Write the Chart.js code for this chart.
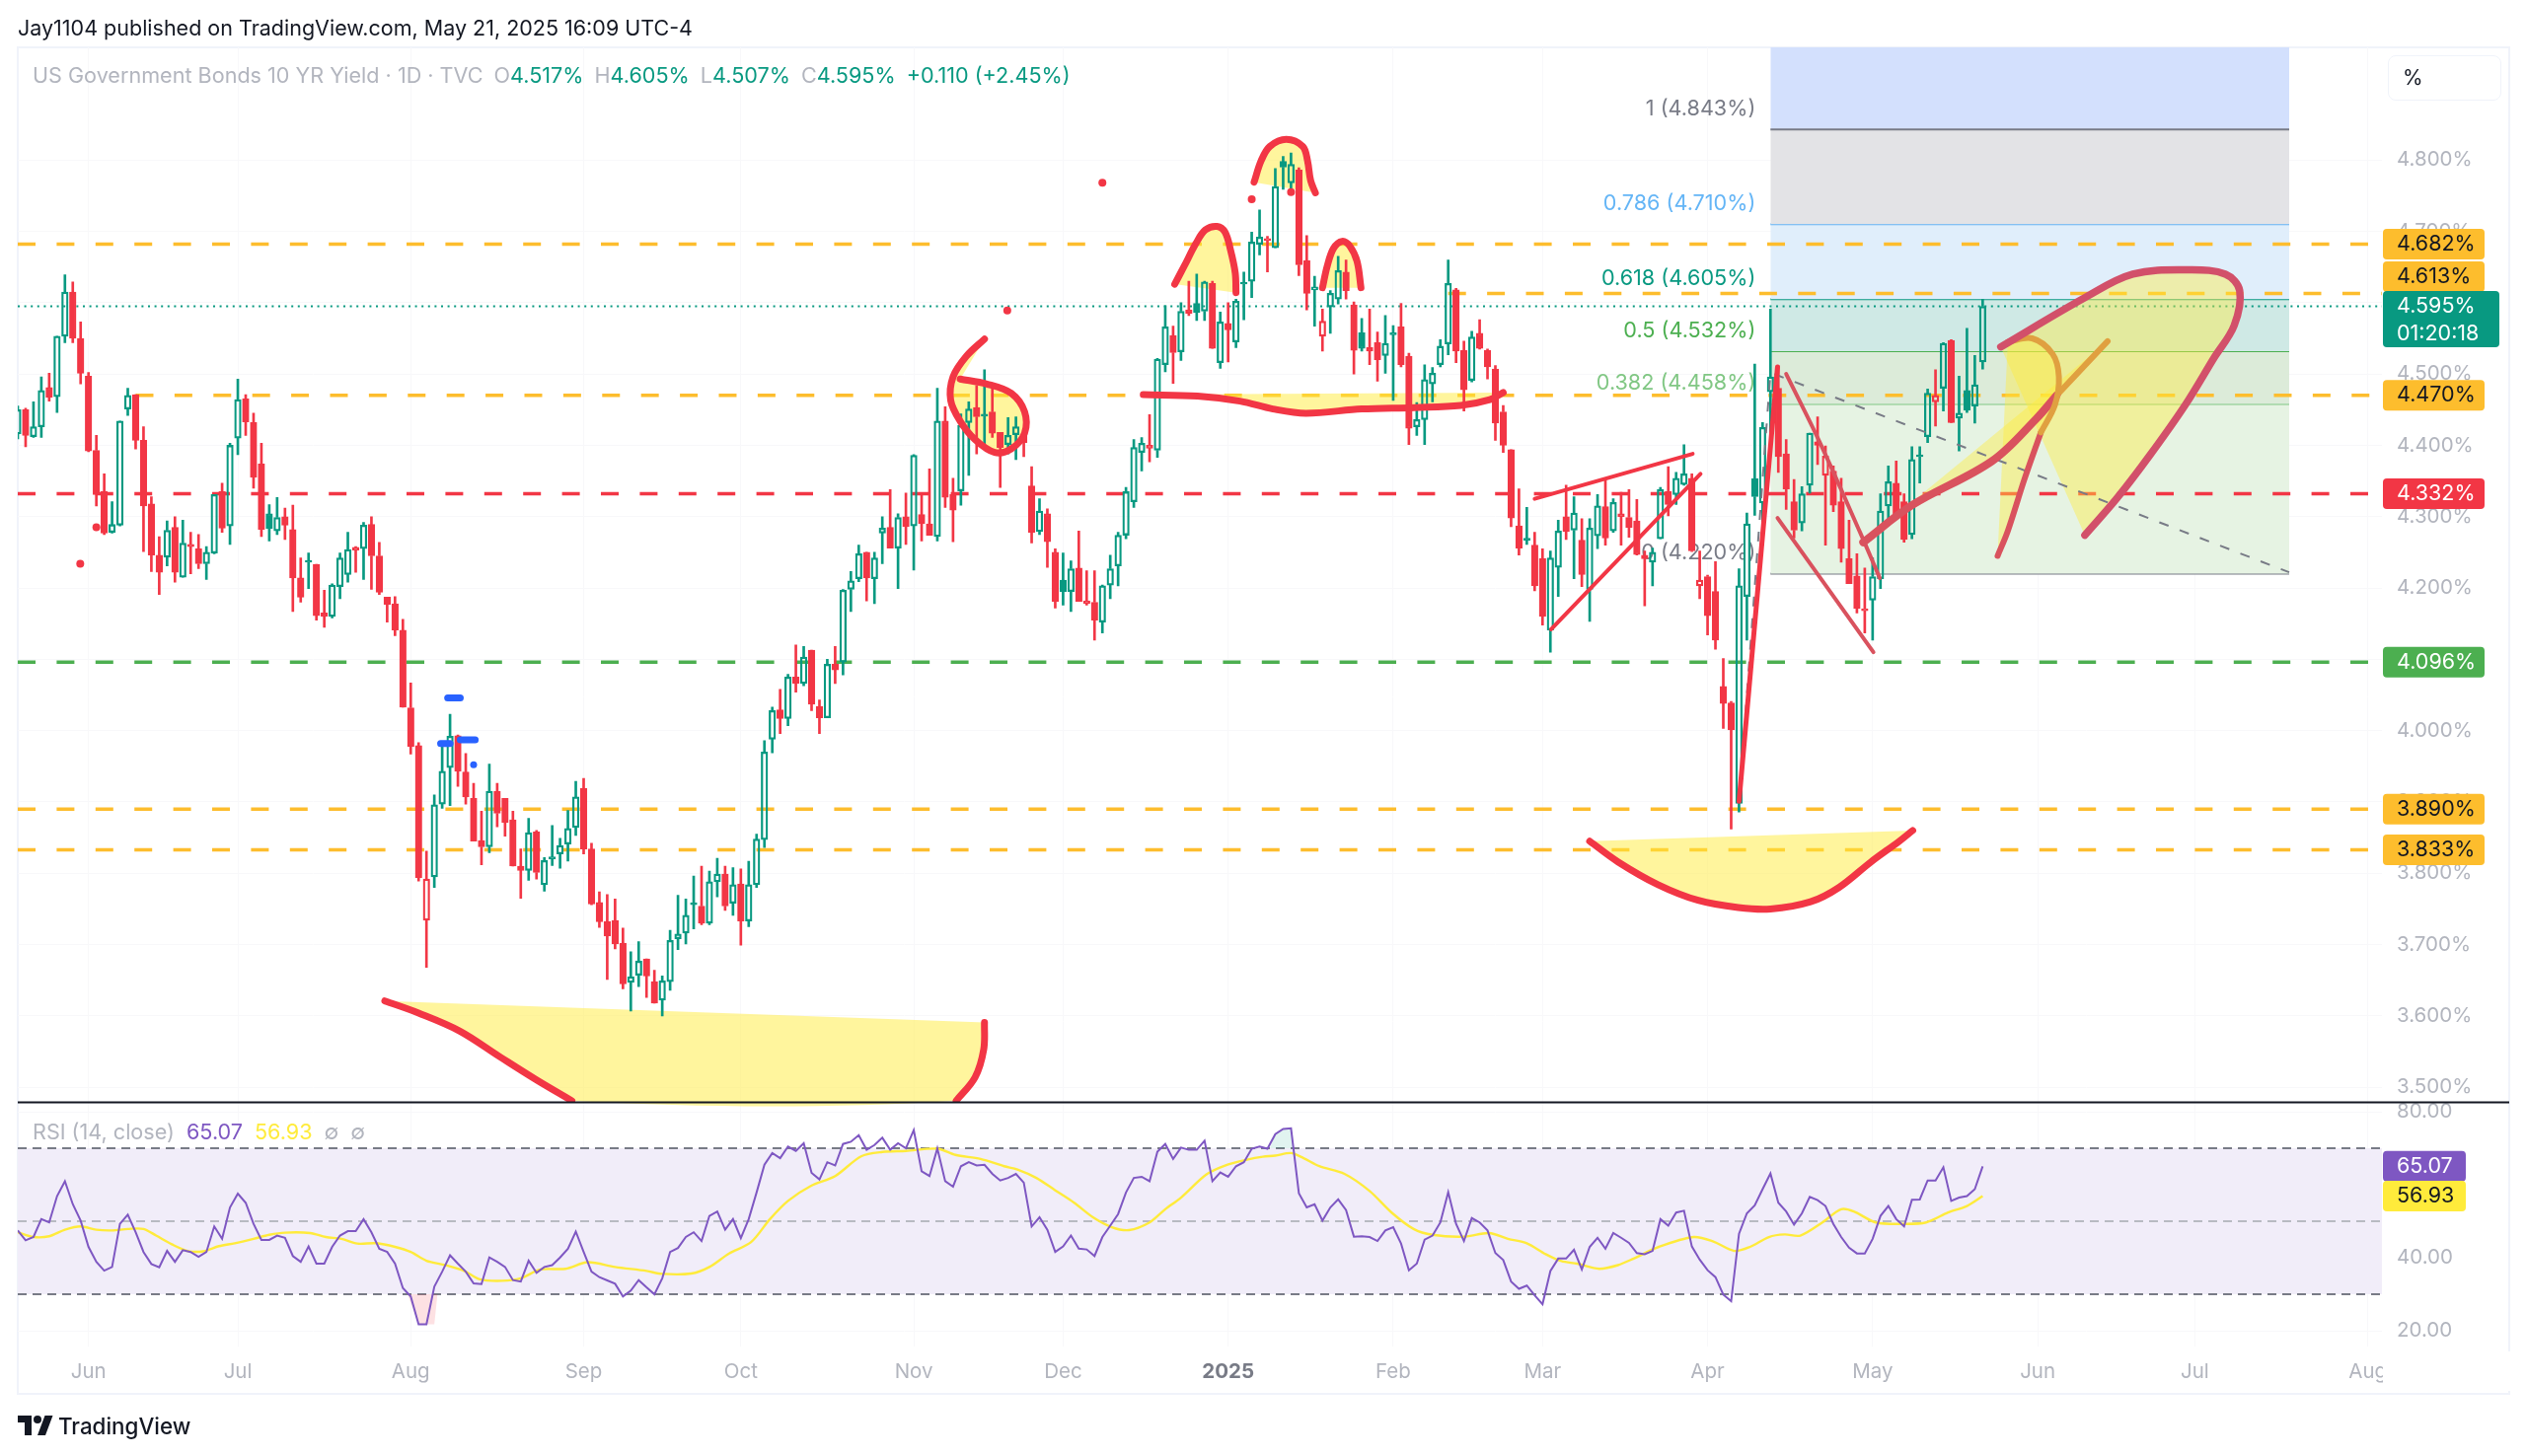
<!DOCTYPE html>
<html>
<head>
<meta charset="utf-8">
<title>US Government Bonds 10 YR Yield</title>
<script src="https://cdn.jsdelivr.net/npm/chart.js@4"></script>
<style>
  html, body { margin: 0; background: #fff; }
  body { width: 2560px; height: 1476px; position: relative; overflow: hidden; font-family: Inter, Roboto, sans-serif; }
  canvas { position: absolute; left: 0; top: 0; }
  .txt { position: absolute; white-space: nowrap; }
  #published { left: 18px; top: 15px; font-size: 21.5px; color: #131722; }
  #legend { left: 33px; top: 63px; font-size: 21.6px; color: #b2b5be; }
  #legend b { font-weight: 400; color: #089981; }
  #legend span { margin-left: 11px; }
  #rsiLegend { left: 33px; top: 1134px; font-size: 21.6px; color: #b2b5be; }
  #rsiLegend span { margin-left: 12px; }
  #unit { left: 2420px; top: 56px; width: 115px; height: 46px; border: 1px solid #f0f3fa; border-radius: 8px; box-sizing: border-box; font-size: 21px; line-height: 44px; color: #131722; padding-left: 14px; }
  #brand { left: 59px; top: 1432px; font-size: 22.4px; font-weight: 500; color: #131722; }
  #logo { position: absolute; left: 18px; top: 1435px; width: 36px; height: 20px; }
</style>
</head>
<body>
<canvas id="chart" width="2560" height="1476"></canvas>
<div class="txt" id="published">Jay1104 published on TradingView.com, May 21, 2025 16:09 UTC-4</div>
<div class="txt" id="legend">US Government Bonds 10 YR Yield · 1D · TVC<span>O<b>4.517%</b></span><span>H<b>4.605%</b></span><span>L<b>4.507%</b></span><span>C<b>4.595%</b></span><span style="color:#089981">+0.110 (+2.45%)</span></div>
<div class="txt" id="rsiLegend">RSI (14, close)<span style="color:#7e57c2">65.07</span><span style="color:#ffeb3b">56.93</span><span>∅</span><span>∅</span></div>
<div class="txt" id="unit">%</div>
<svg id="logo" viewBox="0 0 36 20"><path fill="#131722" d="M14 20H7V7H0V0h14v20zM28 20h-8l7.5-20h8L28 20z"/><circle fill="#131722" cx="20" cy="4" r="4"/></svg>
<div class="txt" id="brand">TradingView</div>

<script>
// Daily candles, May 2024 to May 21 2025, bar 0 is the half hidden one on the left edge
const opens = [
  4.416,4.450,4.412,4.426,4.481,4.468,4.553,4.615,4.550,4.497,4.393,4.335,4.278,4.288,4.451,4.471,4.407,4.318,4.246,4.243,
  4.285,4.215,4.261,4.255,4.234,4.249,4.335,4.287,4.410,4.465,4.432,4.374,4.304,4.280,4.300,4.282,4.214,4.238,4.233,4.165,
  4.160,4.202,4.219,4.257,4.255,4.289,4.245,4.187,4.178,4.141,4.032,3.979,3.734,3.795,3.897,3.948,3.993,3.942,3.905,3.846,
  3.837,3.915,3.905,3.875,3.810,3.804,3.858,3.784,3.823,3.827,3.841,3.864,3.919,3.834,3.759,3.732,3.734,3.702,3.647,3.657,
  3.680,3.648,3.622,3.648,3.708,3.716,3.757,3.754,3.730,3.788,3.799,3.758,3.785,3.733,3.784,3.847,3.988,4.029,4.017,4.075,
  4.066,4.113,4.034,4.018,4.093,4.096,4.198,4.213,4.250,4.213,4.277,4.285,4.256,4.300,4.287,4.303,4.290,4.272,4.434,4.331,
  4.336,4.432,4.453,4.443,4.447,4.418,4.401,4.415,4.414,4.343,4.279,4.304,4.250,4.211,4.195,4.228,4.182,4.180,4.152,4.204,
  4.231,4.274,4.321,4.390,4.400,4.393,4.513,4.554,4.531,4.590,4.599,4.588,4.627,4.516,4.571,4.545,4.628,4.630,4.682,4.690,
  4.677,4.798,4.768,4.786,4.659,4.618,4.553,4.594,4.605,4.643,4.597,4.558,4.537,4.544,4.526,4.558,4.566,4.525,4.426,4.436,
  4.486,4.513,4.542,4.618,4.533,4.491,4.557,4.533,4.507,4.447,4.394,4.287,4.269,4.260,4.241,4.141,4.229,4.300,4.281,4.267,
  4.198,4.273,4.314,4.280,4.304,4.299,4.294,4.246,4.236,4.269,4.335,4.331,4.345,4.354,4.203,4.216,4.195,4.062,4.039,3.898,
  4.188,4.353,4.319,4.475,4.480,4.388,4.321,4.291,4.344,4.405,4.358,4.364,4.321,4.241,4.217,4.171,4.183,4.213,4.315,4.347,
  4.321,4.275,4.386,4.412,4.461,4.480,4.547,4.438,4.477,4.455,4.517
];
const highs = [
  4.455,4.452,4.461,4.496,4.501,4.553,4.639,4.629,4.573,4.502,4.414,4.360,4.321,4.434,4.480,4.471,4.426,4.328,4.272,4.294,
  4.300,4.295,4.278,4.275,4.258,4.331,4.347,4.403,4.493,4.471,4.445,4.403,4.317,4.327,4.312,4.316,4.242,4.249,4.233,4.197,
  4.206,4.249,4.278,4.258,4.292,4.300,4.264,4.187,4.188,4.156,4.067,3.983,3.831,3.910,3.983,4.023,3.994,3.968,3.926,3.887,
  3.953,3.926,3.905,3.887,3.834,3.877,3.860,3.822,3.867,3.849,3.888,3.929,3.933,3.842,3.774,3.770,3.764,3.723,3.690,3.704,
  3.680,3.664,3.656,3.720,3.769,3.764,3.796,3.810,3.803,3.821,3.810,3.808,3.806,3.817,3.855,3.986,4.033,4.058,4.079,4.120,
  4.118,4.113,4.043,4.100,4.118,4.198,4.223,4.260,4.250,4.250,4.300,4.338,4.304,4.333,4.387,4.330,4.367,4.480,4.454,4.354,
  4.444,4.461,4.484,4.506,4.480,4.418,4.439,4.440,4.414,4.370,4.325,4.311,4.255,4.249,4.238,4.280,4.224,4.224,4.204,4.246,
  4.278,4.341,4.408,4.411,4.443,4.522,4.596,4.567,4.600,4.630,4.640,4.630,4.630,4.587,4.600,4.605,4.643,4.699,4.730,4.693,
  4.788,4.805,4.810,4.789,4.694,4.637,4.591,4.617,4.665,4.660,4.601,4.578,4.591,4.559,4.582,4.568,4.599,4.529,4.460,4.513,
  4.509,4.548,4.660,4.620,4.546,4.560,4.576,4.535,4.512,4.456,4.394,4.339,4.313,4.278,4.255,4.252,4.295,4.344,4.328,4.297,
  4.297,4.331,4.351,4.325,4.334,4.338,4.324,4.252,4.256,4.341,4.370,4.362,4.401,4.360,4.252,4.218,4.237,4.101,4.041,4.227,
  4.305,4.514,4.432,4.591,4.511,4.408,4.352,4.342,4.417,4.440,4.399,4.371,4.354,4.295,4.248,4.228,4.242,4.332,4.371,4.378,
  4.332,4.398,4.398,4.479,4.506,4.544,4.548,4.497,4.564,4.526,4.605
];
const lows = [
  4.409,4.398,4.411,4.411,4.462,4.446,4.544,4.544,4.486,4.391,4.315,4.275,4.277,4.287,4.442,4.395,4.251,4.223,4.191,4.231,
  4.208,4.215,4.220,4.227,4.212,4.248,4.278,4.261,4.387,4.414,4.340,4.272,4.266,4.275,4.268,4.167,4.180,4.199,4.155,4.145,
  4.158,4.185,4.208,4.222,4.212,4.198,4.191,4.152,4.133,4.033,3.967,3.789,3.668,3.780,3.891,3.895,3.922,3.897,3.845,3.812,
  3.829,3.865,3.852,3.810,3.765,3.790,3.792,3.775,3.811,3.807,3.817,3.853,3.827,3.756,3.724,3.651,3.694,3.638,3.607,3.641,
  3.626,3.618,3.600,3.636,3.693,3.701,3.722,3.728,3.728,3.767,3.748,3.741,3.699,3.725,3.780,3.836,3.969,3.996,4.007,4.054,
  4.063,4.028,3.996,4.018,4.066,4.078,4.167,4.209,4.182,4.178,4.234,4.256,4.199,4.261,4.225,4.266,4.274,4.266,4.313,4.265,
  4.316,4.358,4.388,4.402,4.411,4.341,4.388,4.380,4.384,4.263,4.275,4.229,4.172,4.176,4.167,4.181,4.176,4.127,4.137,4.185,
  4.203,4.269,4.313,4.364,4.377,4.383,4.503,4.487,4.519,4.582,4.575,4.575,4.536,4.508,4.517,4.537,4.576,4.607,4.667,4.643,
  4.677,4.759,4.752,4.638,4.590,4.567,4.532,4.557,4.598,4.605,4.500,4.532,4.513,4.490,4.501,4.463,4.510,4.401,4.414,4.401,
  4.461,4.510,4.527,4.516,4.448,4.489,4.535,4.493,4.407,4.390,4.286,4.246,4.261,4.196,4.148,4.110,4.188,4.268,4.213,4.202,
  4.153,4.255,4.260,4.278,4.260,4.271,4.246,4.175,4.203,4.269,4.301,4.317,4.344,4.251,4.185,4.134,4.114,4.003,3.862,3.886,
  4.127,4.302,4.261,4.386,4.362,4.310,4.270,4.280,4.333,4.373,4.260,4.307,4.236,4.206,4.165,4.137,4.127,4.199,4.292,4.299,
  4.264,4.269,4.347,4.404,4.427,4.448,4.432,4.392,4.446,4.431,4.507
];
const closes = [
  4.450,4.414,4.426,4.477,4.467,4.553,4.615,4.550,4.501,4.392,4.331,4.277,4.289,4.434,4.470,4.407,4.315,4.246,4.222,4.281,
  4.222,4.263,4.258,4.234,4.250,4.331,4.284,4.400,4.464,4.433,4.355,4.282,4.283,4.299,4.288,4.214,4.187,4.236,4.161,4.160,
  4.204,4.242,4.254,4.253,4.288,4.245,4.194,4.177,4.141,4.033,3.978,3.794,3.792,3.896,3.943,3.992,3.943,3.907,3.845,3.837,
  3.915,3.884,3.871,3.810,3.804,3.857,3.801,3.818,3.820,3.839,3.863,3.907,3.834,3.757,3.732,3.712,3.701,3.645,3.655,3.677,
  3.656,3.618,3.649,3.706,3.715,3.741,3.756,3.730,3.788,3.799,3.754,3.784,3.733,3.784,3.848,3.970,4.028,4.017,4.075,4.066,
  4.103,4.037,4.018,4.093,4.085,4.197,4.210,4.248,4.214,4.242,4.284,4.256,4.299,4.286,4.386,4.290,4.274,4.434,4.327,4.309,
  4.428,4.451,4.440,4.441,4.417,4.397,4.414,4.426,4.404,4.278,4.308,4.265,4.181,4.195,4.227,4.181,4.178,4.155,4.203,4.227,
  4.274,4.335,4.397,4.403,4.396,4.521,4.566,4.530,4.588,4.585,4.586,4.629,4.536,4.573,4.562,4.602,4.626,4.685,4.692,4.687,
  4.763,4.790,4.794,4.653,4.613,4.622,4.574,4.613,4.645,4.617,4.533,4.536,4.532,4.520,4.543,4.555,4.513,4.424,4.436,4.492,
  4.501,4.539,4.627,4.532,4.478,4.552,4.536,4.510,4.431,4.400,4.298,4.256,4.267,4.203,4.160,4.242,4.280,4.279,4.305,4.219,
  4.284,4.315,4.270,4.320,4.300,4.285,4.247,4.241,4.250,4.338,4.317,4.354,4.360,4.252,4.211,4.161,4.127,4.038,4.001,4.203,
  4.290,4.328,4.425,4.496,4.384,4.339,4.281,4.332,4.417,4.400,4.385,4.316,4.255,4.206,4.171,4.168,4.216,4.308,4.349,4.299,
  4.268,4.380,4.384,4.473,4.470,4.543,4.432,4.445,4.449,4.485,4.595
];

// RSI line, one value per bar
const rsiValues = [
  47.5,44.8,45.7,50.6,49.7,56.9,61,54.7,50.2,43,38.9,36.5,37.5,49.3,51.8,47,41.6,38.3,37.4,41.9,
  38.9,42.1,41.6,40.3,41.6,48.6,45.2,53.8,57.6,55.1,49.3,44.9,44.9,46.1,45.5,40.5,38.9,43.1,38.4,38.4,
  43,46.1,47.3,47.3,50.6,47,42.5,41.6,38.4,31.7,29.4,21.8,21.8,32.1,36.2,40.7,38.4,36.2,33,32.8,
  40.1,38.9,37.5,33.9,33.5,39.2,35.9,37.5,38,40.1,42.5,47.2,41.6,36.2,34.7,33.8,32.9,29.4,31,33.9,
  31.9,30,34.4,41.6,42.7,45.7,47,44.6,51.5,52.7,47.7,50.6,45.4,50.6,57.9,65.5,68.7,67.3,70.5,69.3,
  71.4,63.3,61.5,66.2,65.3,71.2,71.8,73.6,69.6,70.9,72.9,69.6,71.4,70,75,63.7,62.4,70,61,59.5,
  65.1,66.2,65.3,65.5,63,61.2,
  61.9,63,60.6,48.6,51.1,47.7,41.6,43.1,46.1,42.5,42.3,40.5,45.7,48.8,52,57.9,61.9,62.2,61,69.1,
  71.2,67.1,70.2,69.6,69.6,72.1,61,63.4,62.2,65.1,66.2,69.9,70.5,69.9,73.9,75.3,75.5,57.7,53.8,54.7,
  50.2,53.8,56,53.1,45.8,45.9,45.7,44.6,47.5,48.4,43.9,36.6,38.4,45,46.1,49.7,58,49.3,44.6,50.9,
  49.7,47.5,41.3,39.4,33.5,31.5,32.4,29.7,27.3,36.4,39.8,39.8,42.2,36.8,43,45.5,42.5,46.8,45.5,44.1,
  41.3,41,41.9,50.6,48.8,52.4,52.9,43.1,39.5,36.6,34.7,29.9,28.1,46.6,52.2,54.4,58.8,63.1,55.1,52.7,
  49.1,52.2,56.7,55.8,54.2,49.3,45.7,42.8,41.2,41.2,45.2,51.5,54.2,50.6,48.6,55.9,56,61.2,61.2,64.8,
  55.6,56.5,56.9,58.8,65.07
];
const rsiAverage = [
  [0,47],[2,45.7],[4,45.9],[6,47.7],[8,48.6],[10,47.7],[12,47.5],[14,47.9],[16,47.9],[17.6,46.1],[19.6,43.7],[21.6,41.9],
  [23.6,41.8],[25.6,43.2],[27.6,44],[30,45.2],[32,46.3],[34,46.9],[37.2,46.8],[39.2,45.7],[41.2,45.2],[43.2,43.9],[45.6,44],
  [48,43],[50,41.6],[52,39.2],[54.4,38],[56.8,36.4],[58.8,34.1],[61.6,33.7],[64,34.4],[66.5,36.8],[69.7,37],[72.5,38.8],
  [76,37.5],[80,36.4],[82,35.6],[85.7,35.7],[88,37.5],[90.5,41.2],[93.3,44.3],[95.7,50.6],[98,55.6],[100.9,59.7],[104,62.4],
  [107.3,67.8],[110,69],[113,69.3],[117,69.9],[119.3,68.2],[122.5,67.1],[125.5,65.1],[127.2,64.2],[129.6,61.9],[132,58.5],
  [134.4,55.1],[136.8,51.1],[139.2,48.4],[141.4,47.6],[144,49.7],[146,53.3],[148,56.5],[151.2,62.8],[153.6,65.3],[156.4,66.9],
  [158.4,67.7],[160,68],[162,68.7],[163.6,67.3],[165.6,65.1],[168.8,63],[172,58.3],[174.8,52.4],[177.6,47.9],[180,46.3],
  [184,45.8],[187.2,46.8],[189.6,45.2],[192,44],[194.4,41],[196.4,39.1],[198.4,38.4],[201.2,37],[203.6,38],[205.6,39.8],
  [208.8,43],[213.2,45.7],[215.6,44.6],[218.4,41.9],[220.4,43],[222.8,45.7],[224.8,46.4],[226.8,46.1],[229.6,49.7],[232,53.3],
  [233.6,52.7],[236.4,49.7],[240,49.3],[242.8,49.7],[245.6,52.4],[248,54.2],[250,56.93]
];
const rsiDip = [[49.6,30],[51,21.8],[53,21.8],[53.4,30]];
const rsiPeak = [[159.3,70],[160,73.9],[161,75.3],[162,75.5],[162.3,70]];

// Axis labels
const monthBars = [9,28,50,72,92,114,133,154,175,194,215,236,257,277,299];
const monthLabels = ["Jun","Jul","Aug","Sep","Oct","Nov","Dec","2025","Feb","Mar","Apr","May","Jun","Jul","Aug"];
const priceTicks = [3.5,3.6,3.7,3.8,3.9,4.0,4.1,4.2,4.3,4.4,4.5,4.6,4.7,4.8];
const rsiTicks = [20,40,60,80];

// Horizontal levels: [yield, first bar]
const goldLevels = [[4.682,0],[4.613,182],[4.470,15],[3.890,0],[3.833,0]];
const redLevel = 4.332;
const greenLevel = 4.096;
const lastClose = 4.595;
const lastRsi = 65.07;
const lastAverage = 56.93;

// Fibonacci box
const fibRatios = ["1","0.786","0.618","0.5","0.382","0"];
const fibLevels = [4.843,4.710,4.605,4.532,4.458,4.220];
const fibLabelColors = ["#787b86","#64b5f6","#089981","#4caf50","#81c784","#787b86"];
const fibFills = ["#e3e3e6","#e0eefb","#cfe9e5","#dcebd9","#e6f3e3"];
const fibStartBar = 223;
const fibEndBar = 289;
const fibTrend = [[219,3.901],[223,4.502],[289,4.222]];

// Hand drawn marks: [bar, yield]
const lowBowlLeft = [[46.7,3.621],[51,3.604],[56.2,3.579],[61.3,3.543],[65.9,3.511],[70.5,3.481]];
const lowBowlRight = [[119.4,3.481],[121.8,3.514],[122.9,3.553],[123,3.591]];
const hook = [[123,4.549],[120.7,4.525],[119,4.496],[118.7,4.463],[119.9,4.434],[121.8,4.408],[124.3,4.390],[126.4,4.395],[128.1,4.417],[128.1,4.447],[126.4,4.473],[123.3,4.486],[119.9,4.493]];
const leftShoulder = [[147.2,4.626],[148.4,4.651],[149.9,4.683],[151.1,4.702],[152.6,4.707],[153.6,4.699],[154.3,4.674],[154.9,4.642],[155,4.614]];
const head = [[157.3,4.769],[158.2,4.799],[159.3,4.819],[161.4,4.829],[163.5,4.819],[164.1,4.799],[164.5,4.771],[165.1,4.754]];
const rightShoulder = [[166,4.621],[166.6,4.651],[167.4,4.676],[168.5,4.686],[169.5,4.679],[170.4,4.658],[170.9,4.621]];
const neckline = [[143.2,4.471],[150.1,4.469],[155.5,4.462],[159.7,4.451],[163.9,4.445],[171,4.451],[177.7,4.453],[183.6,4.456],[187.3,4.464],[189,4.474]];
const wedgeTop = [[193,4.325],[213.1,4.388]];
const wedgeBottom = [[195.1,4.142],[214.1,4.360]];
const aprilSpike = [[219,3.901],[223.9,4.510]];
const fallingBottom = [[223.9,4.298],[236.1,4.110]];
const fallingTop = [[225,4.500],[229.2,4.406],[234.4,4.278],[236.9,4.214]];
const bigArc = [[252.3,4.538],[263,4.607],[269.1,4.640],[276.3,4.646],[280.9,4.640],[282.7,4.617],[282,4.568],[279.4,4.522],[275.8,4.457],[271.2,4.385],[267.1,4.326],[263,4.274]];
const smallArc = [[253.2,4.545],[256.3,4.550],[258.9,4.528],[259.7,4.496],[259.2,4.457],[257.4,4.418],[255.3,4.352],[253.2,4.280],[251.9,4.245]];
const risingLine = [[234.8,4.264],[241,4.316],[251.2,4.378],[256.8,4.437],[259.4,4.470],[265.9,4.546]];
const aprilBowl = [[200,3.845],[203.6,3.816],[208.7,3.784],[213.8,3.762],[218.9,3.752],[223,3.750],[228.1,3.760],[231.7,3.780],[235.8,3.816],[239.4,3.845],[241.1,3.860]];
const redDots = [[10,4.285],[7.95,4.234],[125.9,4.589],[138,4.768],[157,4.745],[162,4.755]];
const blueMarks = [[[54.7,4.046],[56.3,4.046]],[[53.8,3.982],[55,3.982]],[[56.3,3.987],[58.2,3.987]]];
const blueDot = [[58,3.952]];

const GREEN = "#089981", RED = "#f23645", GOLD = "#fdbd2d", DULL_RED = "#d9525e";
const DRAW_YELLOW = "rgba(255,235,59,0.5)", BOX_YELLOW = "rgba(255,235,59,0.42)";
const LAST_BAR_AXIS = 300.8, PRICE_TOP = 4.958, PRICE_BOTTOM = 3.4788;
const FONT = "Inter, Roboto, sans-serif";

const toPoints = (pairs) => pairs.map(([x, y]) => ({ x, y }));

function strokeSet(pairs, color, width, order) {
  return { type: "line", data: toPoints(pairs), yAxisID: "y", borderColor: color, borderWidth: width, pointRadius: 0,
           fill: false, borderCapStyle: "round", borderJoinStyle: "round", tension: 0.35, order: order || 1 };
}
function fillSet(pairs, color) {
  return { type: "line", data: toPoints(pairs), yAxisID: "y", borderWidth: 0, pointRadius: 0,
           backgroundColor: color || DRAW_YELLOW, fill: "shape", tension: 0.35, order: 5 };
}
function levelSet(value, fromBar, color) {
  return { type: "line", data: [{ x: fromBar, y: value }, { x: LAST_BAR_AXIS, y: value }], yAxisID: "y", borderColor: color,
           borderWidth: 3.5, borderDash: [18, 21.4], pointRadius: 0, fill: false, order: 6 };
}

// Candle colours follow the hollow candle rule: hollow if close above open, green if close not below previous close
const candleColors = closes.map((c, i) => (i === 0 || c >= closes[i - 1]) ? GREEN : RED);
const bodyFills = closes.map((c, i) => c > opens[i] ? "transparent" : candleColors[i]);

const candleSets = [
  { type: "bar", yAxisID: "y", grouped: false, barThickness: 6.6, minBarLength: 2, borderWidth: 1.6, borderSkipped: false, order: 3,
    data: opens.map((o, i) => ({ x: i, y: [o, closes[i]] })), backgroundColor: bodyFills, borderColor: candleColors },
  { type: "bar", yAxisID: "y", grouped: false, barThickness: 2, order: 3,
    data: highs.map((h, i) => ({ x: i, y: [Math.max(opens[i], closes[i]), h] })), backgroundColor: candleColors },
  { type: "bar", yAxisID: "y", grouped: false, barThickness: 2, order: 3,
    data: lows.map((l, i) => ({ x: i, y: [l, Math.min(opens[i], closes[i])] })), backgroundColor: candleColors },
];

// Fib bands, top one runs up to the pane edge
const fibSets = [{ type: "line", yAxisID: "y", pointRadius: 0, borderWidth: 0, order: 8,
  data: [{ x: fibStartBar, y: PRICE_TOP }, { x: fibEndBar, y: PRICE_TOP }],
  backgroundColor: "#d3e0fd", fill: { target: { value: fibLevels[0] }, above: "#d3e0fd", below: "#d3e0fd" } }];
fibLevels.forEach((level, i) => {
  const band = fibFills[i];
  fibSets.push({ type: "line", yAxisID: "y", pointRadius: 0, borderWidth: 2, borderColor: fibLabelColors[i], order: 7,
    data: [{ x: fibStartBar, y: level }, { x: fibEndBar, y: level }],
    fill: band ? { target: { value: fibLevels[i + 1] }, above: band, below: band } : false });
});

function rsiLine(value, color) {
  return { type: "line", yAxisID: "rsi", data: [{ x: 0, y: value }, { x: LAST_BAR_AXIS, y: value }], borderColor: color,
           borderWidth: 2, borderDash: [9, 6], pointRadius: 0, order: 4 };
}

const datasets = [
  // hand drawn strokes on top
  strokeSet(lowBowlLeft, RED, 7), strokeSet(lowBowlRight, RED, 7),
  strokeSet(hook, RED, 7), strokeSet(leftShoulder, RED, 7), strokeSet(head, RED, 7), strokeSet(rightShoulder, RED, 7),
  strokeSet(neckline, RED, 7), strokeSet(aprilBowl, RED, 7),
  strokeSet(wedgeTop, RED, 4), strokeSet(wedgeBottom, RED, 4), strokeSet(aprilSpike, RED, 5),
  strokeSet(fallingBottom, DULL_RED, 4), strokeSet(fallingTop, DULL_RED, 4),
  strokeSet(bigArc, "#d2506a", 7.5), strokeSet(smallArc.slice(0, 6), "#e0a040", 6), strokeSet(smallArc.slice(5), DULL_RED, 6),
  strokeSet(risingLine.slice(0, 5), DULL_RED, 8), strokeSet(risingLine.slice(4), "#e0a040", 6),
  { type: "line", yAxisID: "y", data: toPoints(fibTrend), borderColor: "#787b86", borderWidth: 2, borderDash: [10, 12], pointRadius: 0, order: 2 },
  { type: "line", yAxisID: "y", data: toPoints(redDots), showLine: false, pointRadius: 4, pointBackgroundColor: RED, pointBorderWidth: 0, order: 1 },
  { type: "line", yAxisID: "y", data: toPoints(blueDot), showLine: false, pointRadius: 3.5, pointBackgroundColor: "#2962ff", pointBorderWidth: 0, order: 1 },
  ...blueMarks.map((m) => ({ ...strokeSet(m, "#2962ff", 7), tension: 0 })),
  // candles
  ...candleSets,
  // yellow fills
  fillSet([...lowBowlLeft, ...lowBowlRight]), fillSet(hook), fillSet(leftShoulder), fillSet(head), fillSet(rightShoulder),
  fillSet(neckline), fillSet(aprilBowl), fillSet(bigArc, BOX_YELLOW), fillSet(smallArc, BOX_YELLOW), fillSet(risingLine, BOX_YELLOW),
  // levels
  ...goldLevels.map(([v, from]) => levelSet(v, from, GOLD)),
  levelSet(redLevel, 0, RED), levelSet(greenLevel, 0, "#4caf50"),
  { type: "line", yAxisID: "y", data: [{ x: 0, y: lastClose }, { x: LAST_BAR_AXIS, y: lastClose }], borderColor: GREEN, borderWidth: 2, borderDash: [2, 4.6], pointRadius: 0, order: 6 },
  ...fibSets,
  // RSI pane
  { type: "line", yAxisID: "rsi", data: rsiValues.map((v, i) => ({ x: i, y: v })), borderColor: "#7e57c2", borderWidth: 2, pointRadius: 0, order: 1 },
  { type: "line", yAxisID: "rsi", data: toPoints(rsiAverage), borderColor: "#ffeb3b", borderWidth: 2.4, pointRadius: 0, tension: 0.3, order: 2 },
  { type: "line", yAxisID: "rsi", data: toPoints(rsiDip), borderWidth: 0, pointRadius: 0, backgroundColor: "rgba(242,54,69,0.15)", fill: "shape", order: 3 },
  { type: "line", yAxisID: "rsi", data: toPoints(rsiPeak), borderWidth: 0, pointRadius: 0, backgroundColor: "rgba(8,153,129,0.12)", fill: "shape", order: 3 },
  rsiLine(70, "#787b86"), rsiLine(50, "#b8bac2"), rsiLine(30, "#787b86"),
  { type: "line", yAxisID: "rsi", data: [{ x: 0, y: 70 }, { x: LAST_BAR_AXIS, y: 70 }], borderWidth: 0, pointRadius: 0, order: 9,
    fill: { target: { value: 30 }, above: "#f1edf9", below: "#f1edf9" } },
];

// value tags on the right, nudge only where TradingView moves a tag out of the way
const priceTags = [
  { value: 4.682, bg: GOLD, fg: "#131722" },
  { value: 4.613, bg: GOLD, fg: "#131722", nudge: -17 },
  { value: 4.470, bg: GOLD, fg: "#131722" },
  { value: 4.332, bg: RED, fg: "#fff" },
  { value: 4.096, bg: "#4caf50", fg: "#fff" },
  { value: 3.890, bg: GOLD, fg: "#131722" },
  { value: 3.833, bg: GOLD, fg: "#131722" },
];

const chrome = {
  id: "chrome",
  beforeDraw(chart) {
    const { ctx, chartArea } = chart;
    ctx.save();
    ctx.strokeStyle = "#f0f3fa";
    ctx.lineWidth = 2;
    ctx.strokeRect(chartArea.left, chartArea.top, 2543 - chartArea.left, 1413 - chartArea.top);
    ctx.restore();
  },
  beforeDatasetsDraw(chart) {
    // fib labels sit under the candles
    const { ctx, scales } = chart;
    ctx.save();
    ctx.font = "21.6px " + FONT;
    ctx.textAlign = "right";
    ctx.textBaseline = "middle";
    fibLevels.forEach((level, i) => {
      ctx.fillStyle = fibLabelColors[i];
      ctx.fillText(fibRatios[i] + " (" + level.toFixed(3) + "%)", scales.x.getPixelForValue(fibStartBar) - 15, scales.y.getPixelForValue(level) - 21);
    });
    ctx.restore();
  },
  afterDatasetsDraw(chart) {
    const { ctx, scales } = chart;
    const left = chart.chartArea.right + 1;
    ctx.save();
    // time axis is clipped where the price axis starts
    ctx.fillStyle = "#fff";
    ctx.fillRect(left, 1370, 140, 40);
    // pane divider
    ctx.fillStyle = "#131722";
    ctx.fillRect(18, scales.y.bottom - 1, 2525, 2);

    ctx.font = "21.5px " + FONT;
    ctx.textBaseline = "middle";
    const tag = (y, w, h, bg, fg, lines) => {
      ctx.fillStyle = bg;
      ctx.beginPath();
      ctx.roundRect(left, y, w, h, 4);
      ctx.fill();
      ctx.fillStyle = fg;
      lines.forEach((t, i) => ctx.fillText(t, left + 14, y + 15.5 + i * 28));
    };
    priceTags.forEach((t) => {
      const y = scales.y.getPixelForValue(t.value) - 15.5 + (t.nudge || 0);
      tag(y, 103, 31, t.bg, t.fg, [t.value.toFixed(3) + "%"]);
    });
    tag(scales.y.getPixelForValue(lastClose) - 15.5, 118, 57, GREEN, "#fff", [lastClose.toFixed(3) + "%", "01:20:18"]);
    const rsiY = scales.rsi.getPixelForValue(lastRsi);
    tag(rsiY - 15.5, 84, 31, "#7e57c2", "#fff", [lastRsi.toFixed(2)]);
    tag(scales.rsi.getPixelForValue(lastAverage) - 15.5, 84, 31, "#ffeb3b", "#131722", [lastAverage.toFixed(2)]);
    ctx.restore();
  },
};

const sideAxisWidth = (scale) => { scale.width = 146; };

new Chart(document.getElementById("chart").getContext("2d"), {
  type: "bar",
  data: { datasets },
  plugins: [chrome],
  options: {
    responsive: false,
    animation: false,
    devicePixelRatio: 1,
    events: [],
    layout: { padding: { left: 18, top: 48, bottom: 63, right: 0 } },
    plugins: { legend: { display: false }, tooltip: { enabled: false } },
    scales: {
      x: {
        type: "linear", min: 0, max: LAST_BAR_AXIS, offset: false,
        border: { display: false },
        grid: { color: "#f8f8fa", drawTicks: false, offset: false },
        afterBuildTicks: (scale) => { scale.ticks = monthBars.map((value) => ({ value })); },
        afterFit: (scale) => { scale.height = 48; },
        ticks: {
          autoSkip: false, maxRotation: 0, padding: 14,
          callback: (value, i) => monthLabels[i],
          color: (c) => monthLabels[c.index] === "2025" ? "#787b86" : "#b2b5be",
          font: (c) => ({ family: FONT, size: 20.5, weight: monthLabels[c.index] === "2025" ? "700" : "400" }),
        },
      },
      y: {
        type: "linear", position: "right", stack: "panes", stackWeight: 1069.5, min: PRICE_BOTTOM, max: PRICE_TOP,
        border: { display: false },
        grid: { color: "#f8f8fa", drawTicks: false },
        afterBuildTicks: (scale) => { scale.ticks = priceTicks.map((value) => ({ value })); },
        afterFit: sideAxisWidth,
        ticks: { padding: 15, color: "#b2b5be", font: { family: FONT, size: 20.5 }, callback: (v) => v.toFixed(3) + "%" },
      },
      rsi: {
        type: "linear", position: "right", stack: "panes", stackWeight: 247.5, min: 15.7, max: 82.6,
        border: { display: false },
        grid: { color: "#f8f8fa", drawTicks: false },
        afterBuildTicks: (scale) => { scale.ticks = rsiTicks.map((value) => ({ value })); },
        afterFit: sideAxisWidth,
        ticks: { padding: 15, color: "#b2b5be", font: { family: FONT, size: 20.5 }, callback: (v) => v.toFixed(2) },
      },
    },
  },
});
</script>
</body>
</html>
